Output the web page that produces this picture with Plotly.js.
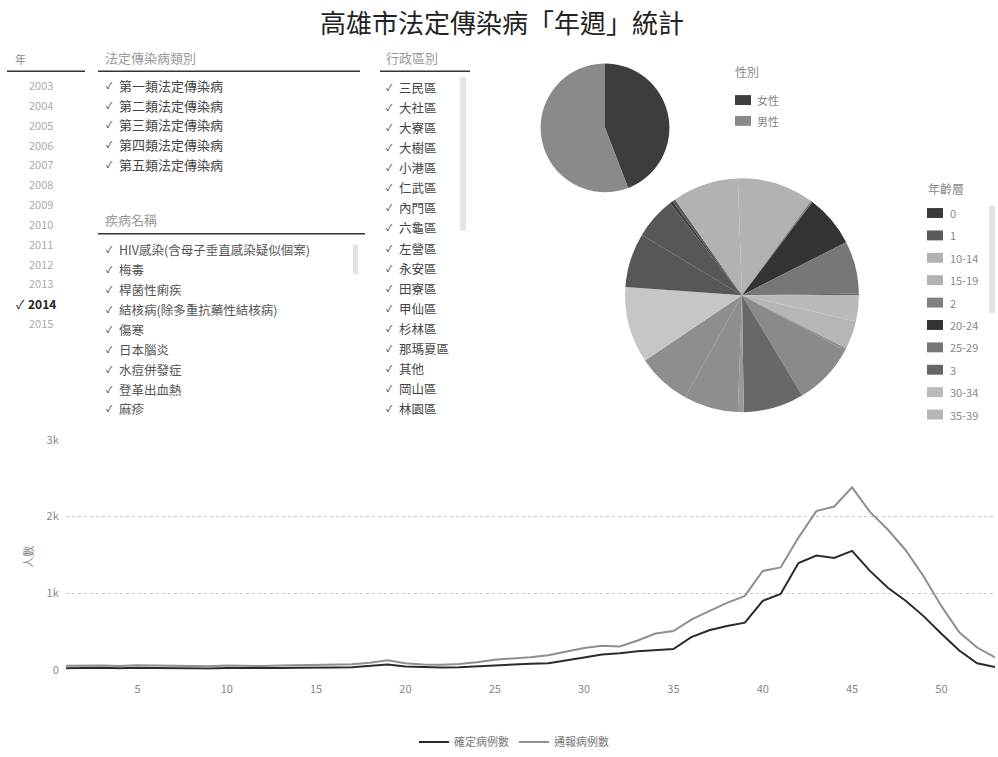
<!DOCTYPE html>
<html>
<head>
<meta charset="utf-8">
<script src="https://cdn.plot.ly/plotly-3.0.1.min.js"></script>
<style>
  html, body { margin: 0; padding: 0; background: #fff; }
  #chart { width: 998px; height: 757px; }
</style>
</head>
<body>
<div id="chart"></div>
<script>
// ---- data ----
const years = ['2003', '2004', '2005', '2006', '2007', '2008', '2009', '2010', '2011', '2012', '2013', '2014', '2015'];
const selectedYear = '2014';
const categories = ['第一類法定傳染病', '第二類法定傳染病', '第三類法定傳染病', '第四類法定傳染病', '第五類法定傳染病'];
const diseases = ['HIV感染(含母子垂直感染疑似個案)', '梅毒', '桿菌性痢疾', '結核病(除多重抗藥性結核病)', '傷寒', '日本腦炎', '水痘併發症', '登革出血熱', '麻疹'];
const districts = ['三民區', '大社區', '大寮區', '大樹區', '小港區', '仁武區', '內門區', '六龜區', '左營區', '永安區', '田寮區', '甲仙區', '杉林區', '那瑪夏區', '其他', '岡山區', '林園區'];

const sexLabels = ['女性', '男性'];
const sexValues = [6620, 8380];

const ageLabels = ['0', '1', '10-14', '15-19', '2', '20-24', '25-29', '3', '30-34', '35-39', '4', '40-44', '45-49', '5-9', '50-54', '55-59', '60-64', '65-69', '70+'];
const ageValues = [58, 63, 1318, 1524, 41, 1037, 1046, 39, 518, 562, 44, 1236, 1203, 117, 1085, 1079, 1516, 1082, 839];

const weeks = [1, 2, 3, 4, 5, 6, 7, 8, 9, 10, 11, 12, 13, 14, 15, 16, 17, 18, 19, 20, 21, 22, 23, 24, 25, 26, 27,
  28, 29, 30, 31, 32, 33, 34, 35, 36, 37, 38, 39, 40, 41, 42, 43, 44, 45, 46, 47, 48, 49, 50, 51, 52, 53];
const confirmed = [18, 22, 25, 20, 27, 24, 21, 19, 17, 22, 20, 18, 23, 25, 24, 28, 34, 48, 70, 42, 33, 30, 34, 45, 62, 70, 78,
  85, 120, 160, 200, 215, 240, 255, 270, 425, 515, 570, 615, 900, 990, 1393, 1490, 1460, 1552, 1290, 1070, 900, 700, 470, 250, 85, 35];
const reported = [52, 57, 54, 49, 60, 56, 53, 50, 47, 55, 52, 49, 56, 59, 58, 63, 71, 92, 124, 84, 70, 66, 75, 98, 130, 148, 163,
  190, 238, 284, 312, 305, 382, 472, 505, 655, 765, 872, 965, 1290, 1335, 1725, 2070, 2130, 2380, 2060, 1830, 1560, 1220, 830, 490, 290, 160];

// ---- styles ----
const W = 998, H = 757;
const CJK = '"Noto Sans CJK TC", "Noto Sans", sans-serif';
const sexColors = ['#3d3d3d', '#8a8a8a'];
const ageColors = ['#3a3a3a', '#5a5a5a', '#b2b2b2', '#b2b2b2', '#808080', '#333333', '#777777', '#666666', '#bababa', '#b6b6b6',
  '#8a8a8a', '#8a8a8a', '#686868', '#999999', '#8e8e8e', '#8e8e8e', '#c6c6c6', '#575757', '#575757'];

const px = x => x / W;
const py = y => 1 - y / H;

const annotations = [];
const shapes = [];

function label(x, y, text, size, color, extra) {
  annotations.push(Object.assign({
    xref: 'paper', yref: 'paper', x: px(x), y: py(y), text: text,
    showarrow: false, xanchor: 'left', yanchor: 'middle',
    font: { family: CJK, size: size, color: color }
  }, extra || {}));
}
function hline(x0, x1, y, color, width) {
  shapes.push({ type: 'line', xref: 'paper', yref: 'paper', x0: px(x0), x1: px(x1), y0: py(y), y1: py(y),
    line: { color: color, width: width } });
}
function box(x0, x1, y0, y1, color) {
  shapes.push({ type: 'rect', xref: 'paper', yref: 'paper', x0: px(x0), x1: px(x1), y0: py(y1), y1: py(y0),
    fillcolor: color, line: { width: 0 } });
}

// title
label(502, 22, '高雄市法定傳染病「年週」統計', 26, '#222', { xanchor: 'center' });

// year selector
label(13, 60, '年', 11, '#888');
hline(7, 85, 72, '#333', 1.5);
years.forEach((yr, i) => {
  const y = 86 + i * 20;
  if (yr === selectedYear) {
    label(14, y, '✓', 12, '#222');
    label(26, y, '<b>' + yr + '</b>', 12, '#222');
  } else {
    label(27, y, yr, 11, '#aaa');
  }
});

// category selector
label(103, 58, '法定傳染病類別', 13, '#999');
hline(98, 360, 72, '#333', 1.5);
categories.forEach((c, i) => {
  const y = 86 + i * 20;
  label(104, y, '✓', 9, '#333');
  label(117, y, c, 13, '#444');
});

// disease selector
label(103, 222, '疾病名稱', 13, '#999');
hline(98, 365, 236, '#333', 1.5);
box(353, 358, 247, 277, '#e4e4e4');
diseases.forEach((d, i) => {
  const y = 252 + i * 20.1;
  label(104, y, '✓', 9, '#333');
  label(117, y, d, 12.5, '#555');
});

// district selector
label(384, 58, '行政區別', 13, '#999');
hline(380, 470, 72, '#333', 1.5);
box(460, 466, 78, 233, '#e4e4e4');
districts.forEach((d, i) => {
  const y = 88 + i * 20.3;
  label(384, y, '✓', 9, '#333');
  label(397, y, d, 12.5, '#444');
});

// sex legend
label(733, 72, '性別', 12, '#888');
sexLabels.forEach((s, i) => {
  const y = 101 + i * 21;
  box(735, 751, y - 5, y + 5, sexColors[i]);
  label(755, y, s, 11, '#888');
});

// age legend (first ten entries visible, rest behind the scroller)
label(926, 190, '年齡層', 12, '#888');
box(989, 995, 208, 316, '#e4e4e4');
ageLabels.slice(0, 10).forEach((a, i) => {
  const y = 215 + i * 22.6;
  box(927, 943, y - 5, y + 5, ageColors[i]);
  label(948, y, a, 11, '#888');
});

// y-axis title of the weekly chart
label(28, 562, '人數', 11, '#888', { xanchor: 'center', textangle: -90 });

const traces = [
  {
    type: 'pie', labels: sexLabels, values: sexValues,
    sort: false, direction: 'clockwise', rotation: 0,
    marker: { colors: sexColors, line: { width: 0 } },
    textinfo: 'none', showlegend: false, hoverinfo: 'label+percent',
    domain: { x: [px(540), px(670)], y: [py(194), py(64)] }
  },
  {
    type: 'pie', labels: ageLabels, values: ageValues,
    sort: false, direction: 'clockwise', rotation: -38,
    marker: { colors: ageColors, line: { width: 0 } },
    textinfo: 'none', showlegend: false, hoverinfo: 'label+percent',
    domain: { x: [px(624), px(860)], y: [py(416), py(180)] }
  },
  {
    type: 'scatter', mode: 'lines', name: '確定病例數', x: weeks, y: confirmed,
    line: { color: '#2b2b2b', width: 2 }
  },
  {
    type: 'scatter', mode: 'lines', name: '通報病例數', x: weeks, y: reported,
    line: { color: '#8f8f8f', width: 2 }
  }
];

const layout = {
  width: W, height: H,
  margin: { l: 0, r: 0, t: 0, b: 0 },
  paper_bgcolor: '#fff', plot_bgcolor: '#fff',
  font: { family: CJK, color: '#888' },
  showlegend: true,
  legend: {
    orientation: 'h', x: 0.515, xanchor: 'center', y: py(749), yanchor: 'middle',
    font: { family: CJK, size: 11, color: '#777' }, itemwidth: 30
  },
  xaxis: {
    domain: [px(66), px(995)], range: [1, 53],
    tick0: 0, dtick: 5, showgrid: false, zeroline: false, showline: false,
    ticks: 'outside', ticklen: 9, tickcolor: 'rgba(0,0,0,0)',
    tickfont: { size: 11, color: '#888' }
  },
  yaxis: {
    domain: [py(676), py(444)], range: [0, 3000],
    dtick: 1000, tickformat: '~s', showgrid: true, gridcolor: '#c8c8c8', griddash: 'dot',
    zeroline: false, showline: false, ticks: 'outside', ticklen: 4, tickcolor: 'rgba(0,0,0,0)',
    tickfont: { size: 11, color: '#888' }
  },
  annotations: annotations,
  shapes: shapes
};

Plotly.newPlot('chart', traces, layout, { displayModeBar: false, staticPlot: true });
</script>
</body>
</html>
